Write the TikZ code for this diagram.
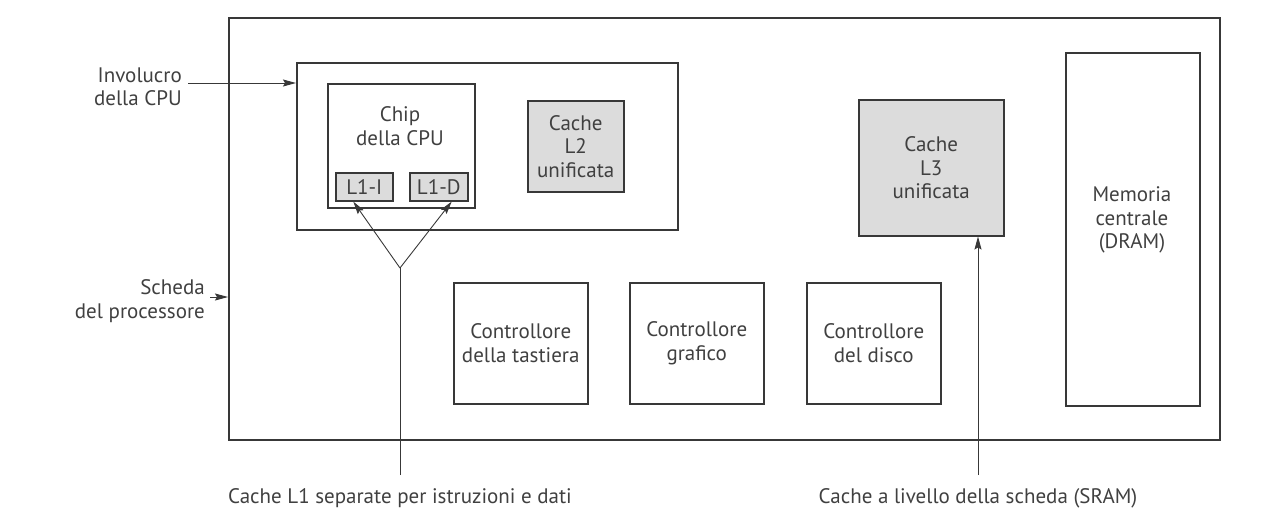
\documentclass[tikz,border=0pt]{standalone}
\usepackage{fontspec}
\setmainfont{PT Sans}
\usetikzlibrary{arrows.meta,calc}
\definecolor{ln}{HTML}{383838}
\definecolor{tx}{HTML}{404040}
\definecolor{fl}{HTML}{DCDCDC}
\begin{document}
\begin{tikzpicture}[x=1pt,y=-1pt,
  box/.style={draw=ln, line width=1.5pt, inner sep=0pt, anchor=north west},
  gbox/.style={box, fill=fl},
  lbl/.style={text=tx, font=\fontsize{21}{23.5}\selectfont, align=center, inner sep=0pt},
  arr/.style={draw=ln, line width=0.9pt, -{Stealth[length=13pt,width=7pt,inset=2pt]}},
  thin/.style={draw=ln, line width=0.9pt}]
\useasboundingbox (0,0) rectangle (1267,520);
% boxes
\node[box, minimum width=991pt, minimum height=422pt] (board) at (228,17) {};
\node[box, minimum width=381pt, minimum height=167pt] (pkg) at (296,62) {};
\node[box, minimum width=147pt, minimum height=124pt] (chip) at (327,83) {};
\node[gbox, minimum width=57pt, minimum height=28pt, lbl] (l1i) at (335,172) {L1-I};
\node[gbox, minimum width=58pt, minimum height=28pt, lbl] (l1d) at (409,172) {L1-D};
\node[gbox, minimum width=96pt, minimum height=91pt, lbl] (l2) at (527,100) {Cache\\L2\\unificata};
\node[gbox, minimum width=145pt, minimum height=136pt, lbl] (l3) at (858,99) {Cache\\L3\\unificata};
\node[box, minimum width=134pt, minimum height=353pt] (mem) at (1065,52) {};
\node[box, minimum width=134pt, minimum height=121pt, lbl] (k1) at (453,282) {Controllore\\della tastiera};
\node[box, minimum width=134pt, minimum height=121pt, lbl] (k2) at (629,282) {Controllore\\grafico};
\node[box, minimum width=134pt, minimum height=121pt, lbl] (k3) at (806,282) {Controllore\\del disco};
% texts
\node[lbl] (chiptx) at (400,126) {Chip\\della CPU};
\node[lbl] (memtx) at (1132,220) {Memoria\\centrale\\(DRAM)};
\node[lbl, align=right, anchor=east] (inv) at (182,87) {Involucro\\della CPU};
\node[lbl, align=right, anchor=east] (sch) at (205,301) {Scheda\\del processore};
\node[lbl] (c1) at (400,498) {Cache L1 separate per istruzioni e dati};
\node[lbl] (c2) at (978,498) {Cache a livello della scheda (SRAM)};
% connectors
\coordinate (ia) at (188,83);
\draw[arr] (ia) -- (ia -| pkg.west);
\coordinate (sa) at (210,297);
\draw[arr] (sa) -- (sa -| board.west);
\coordinate (j) at (400,268);
\coordinate (b1) at (400,475);
\draw[thin] (b1) -- (j);
\draw[arr] (j) -- ([xshift=-11pt]l1i.south);
\draw[arr] (j) -- ([xshift=13pt]l1d.south);
\coordinate (b2) at (978,475);
\draw[arr] (b2) -- (b2 |- l3.south);
\end{tikzpicture}
\end{document}
